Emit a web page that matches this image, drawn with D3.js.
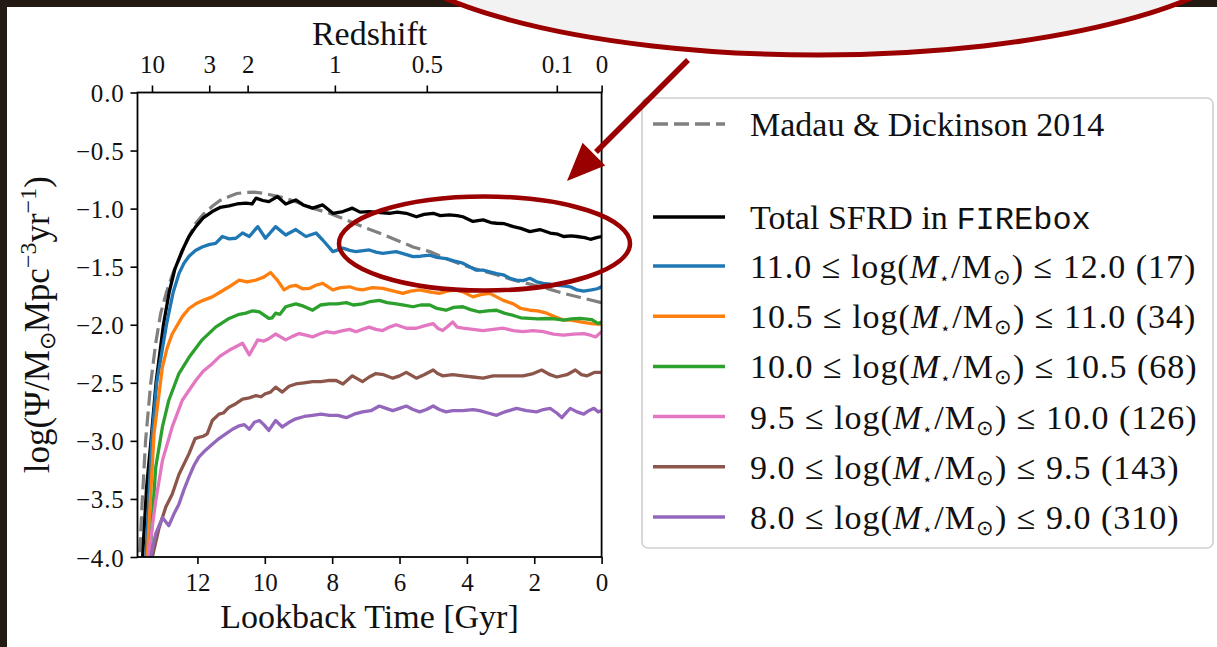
<!DOCTYPE html>
<html><head><meta charset="utf-8">
<script src="https://cdn.jsdelivr.net/npm/d3@7"></script>
<style>html,body{margin:0;padding:0;background:#221a14;overflow:hidden} svg{display:block}</style>
</head><body>
<svg id="c" width="1217" height="647"></svg>
<script>
// ---------------- DATA (lookback time [Gyr], log SFRD) ----------------
const madauDickinson = [[13.85,-4.5],[13.72,-4.0],[13.64,-3.52],[13.54,-3.0],[13.39,-2.51],[13.24,-2.16],[13.09,-1.9],[12.92,-1.72],[12.72,-1.55],[12.55,-1.44],[12.32,-1.28],[12.06,-1.13],[11.83,-1.05],[11.56,-0.98],[11.33,-0.93],[11.06,-0.896],[10.83,-0.87],[10.56,-0.86],[10.33,-0.858],[10.06,-0.867],[9.85,-0.88],[9.58,-0.896],[9.35,-0.915],[9.08,-0.94],[8.85,-0.965],[8.58,-0.996],[8.08,-1.04],[7.58,-1.097],[7.1,-1.155],[6.6,-1.21],[6.1,-1.27],[5.6,-1.33],[5.1,-1.37],[4.62,-1.43],[4.12,-1.486],[3.62,-1.53],[3.12,-1.57],[2.62,-1.615],[2.13,-1.65],[1.63,-1.687],[1.13,-1.73],[0.63,-1.765],[0,-1.81]];

const totalSFRD = [[13.75,-4.5],[13.63,-4.0],[13.51,-3.4],[13.38,-3.0],[13.23,-2.5],[13.01,-2.0],[12.84,-1.72],[12.67,-1.52],[12.45,-1.36],[12.25,-1.24],[12.05,-1.155],[11.83,-1.08],[11.56,-1.025],[11.33,-0.99],[11.06,-0.977],[10.83,-0.96],[10.56,-0.953],[10.38,-0.96],[10.26,-0.91],[10.06,-0.93],[9.88,-0.94],[9.63,-0.896],[9.38,-0.96],[9.08,-0.925],[8.85,-0.97],[8.58,-0.996],[8.28,-0.968],[7.98,-1.04],[7.68,-1.025],[7.4,-0.996],[7.17,-1.03],[6.9,-1.025],[6.57,-1.035],[6.3,-1.04],[6.07,-1.03],[5.8,-1.04],[5.5,-1.07],[5.27,-1.05],[5.0,-1.04],[4.79,-1.06],[4.52,-1.054],[4.29,-1.06],[4.12,-1.07],[3.82,-1.11],[3.52,-1.097],[3.29,-1.12],[3.12,-1.126],[2.89,-1.13],[2.62,-1.155],[2.4,-1.17],[2.13,-1.198],[1.83,-1.18],[1.53,-1.21],[1.3,-1.22],[1.13,-1.24],[0.9,-1.235],[0.73,-1.24],[0.5,-1.25],[0.33,-1.264],[0.15,-1.25],[0,-1.24]];

const bin11to12 = [[13.66,-4.6],[13.53,-4.0],[13.36,-3.0],[13.21,-2.5],[12.92,-2.0],[12.85,-1.90],[12.72,-1.72],[12.55,-1.56],[12.4,-1.47],[12.25,-1.41],[12.06,-1.36],[11.86,-1.33],[11.66,-1.31],[11.46,-1.30],[11.26,-1.24],[11.06,-1.26],[10.86,-1.255],[10.66,-1.21],[10.46,-1.24],[10.21,-1.155],[9.98,-1.255],[9.68,-1.155],[9.38,-1.227],[9.08,-1.18],[8.78,-1.24],[8.48,-1.21],[8.28,-1.27],[7.98,-1.37],[7.68,-1.34],[7.48,-1.36],[7.3,-1.37],[6.9,-1.356],[6.7,-1.375],[6.5,-1.385],[6.1,-1.37],[5.87,-1.39],[5.6,-1.414],[5.37,-1.41],[5.1,-1.40],[4.89,-1.42],[4.62,-1.43],[4.39,-1.45],[4.12,-1.47],[3.92,-1.50],[3.72,-1.53],[3.52,-1.53],[3.32,-1.544],[3.12,-1.56],[2.92,-1.57],[2.72,-1.60],[2.53,-1.615],[2.33,-1.62],[2.13,-1.60],[1.93,-1.63],[1.73,-1.644],[1.53,-1.65],[1.33,-1.66],[1.13,-1.665],[0.93,-1.673],[0.73,-1.70],[0.53,-1.71],[0.3,-1.70],[0.13,-1.69],[0,-1.673]];

const bin105to11 = [[13.63,-4.6],[13.49,-4.0],[13.29,-2.94],[13.04,-2.365],[12.9,-2.2],[12.75,-2.08],[12.45,-1.93],[12.25,-1.86],[12.05,-1.82],[11.83,-1.79],[11.56,-1.76],[11.33,-1.72],[11.06,-1.673],[10.76,-1.615],[10.53,-1.63],[10.26,-1.615],[10.03,-1.59],[9.83,-1.55],[9.63,-1.615],[9.43,-1.70],[9.25,-1.67],[9.08,-1.66],[8.88,-1.69],[8.68,-1.687],[8.48,-1.66],[8.28,-1.644],[7.98,-1.70],[7.75,-1.68],[7.48,-1.673],[7.3,-1.69],[7.1,-1.70],[6.8,-1.68],[6.5,-1.687],[6.17,-1.71],[5.9,-1.73],[5.67,-1.71],[5.4,-1.70],[5.07,-1.72],[4.82,-1.73],[4.59,-1.71],[4.32,-1.70],[4.09,-1.72],[3.82,-1.76],[3.59,-1.74],[3.32,-1.73],[3.12,-1.76],[2.92,-1.79],[2.62,-1.82],[2.4,-1.86],[2.13,-1.875],[1.9,-1.88],[1.63,-1.90],[1.4,-1.93],[1.13,-1.96],[0.9,-1.96],[0.63,-1.976],[0.3,-1.99],[0,-1.996]];

const bin10to105 = [[13.51,-4.6],[13.41,-4.0],[13.24,-3.23],[13.04,-2.88],[12.85,-2.65],[12.55,-2.42],[12.25,-2.28],[11.86,-2.13],[11.46,-2.02],[11.06,-1.946],[10.76,-1.91],[10.56,-1.90],[10.36,-1.88],[10.16,-1.89],[9.88,-1.946],[9.78,-1.94],[9.68,-1.90],[9.55,-1.91],[9.38,-1.845],[9.08,-1.82],[8.85,-1.84],[8.58,-1.875],[8.35,-1.83],[8.08,-1.82],[7.85,-1.82],[7.58,-1.81],[7.37,-1.83],[7.1,-1.82],[6.87,-1.80],[6.6,-1.79],[6.37,-1.81],[6.1,-1.82],[5.87,-1.83],[5.6,-1.845],[5.37,-1.83],[5.1,-1.83],[4.89,-1.86],[4.62,-1.875],[4.39,-1.85],[4.12,-1.845],[3.89,-1.87],[3.62,-1.89],[3.39,-1.88],[3.12,-1.875],[2.89,-1.90],[2.62,-1.92],[2.4,-1.94],[2.13,-1.946],[1.9,-1.95],[1.63,-1.946],[1.4,-1.95],[1.13,-1.96],[0.9,-1.95],[0.63,-1.946],[0.3,-1.955],[0.1,-1.99],[0,-1.976]];

const bin95to10 = [[13.56,-4.6],[13.46,-4.0],[13.24,-3.52],[13.04,-3.17],[12.75,-2.88],[12.45,-2.65],[12.05,-2.48],[11.83,-2.40],[11.56,-2.335],[11.33,-2.27],[11.06,-2.22],[10.86,-2.19],[10.66,-2.16],[10.46,-2.26],[10.21,-2.13],[10.03,-2.14],[9.88,-2.12],[9.68,-2.08],[9.38,-2.13],[9.18,-2.10],[8.98,-2.076],[8.78,-2.09],[8.58,-2.105],[8.38,-2.08],[8.18,-2.06],[7.95,-2.07],[7.68,-2.05],[7.48,-2.04],[7.3,-2.06],[7.1,-2.04],[6.9,-2.02],[6.7,-2.04],[6.5,-2.05],[6.3,-2.02],[6.1,-2.00],[5.8,-2.03],[5.5,-2.03],[5.27,-2.01],[5.0,-1.99],[4.87,-2.03],[4.72,-2.05],[4.59,-2.02],[4.42,-1.976],[4.29,-2.02],[4.12,-2.03],[3.82,-2.04],[3.52,-2.05],[3.22,-2.04],[2.92,-2.03],[2.62,-2.05],[2.33,-2.06],[2.03,-2.05],[1.73,-2.06],[1.43,-2.08],[1.13,-2.09],[0.83,-2.08],[0.53,-2.076],[0.33,-2.09],[0.18,-2.105],[0,-2.06]];

const bin9to95 = [[13.46,-4.6],[13.34,-4.0],[13.14,-3.75],[12.94,-3.57],[12.75,-3.46],[12.55,-3.29],[12.25,-3.11],[12.07,-2.98],[11.96,-2.97],[11.83,-2.96],[11.71,-2.94],[11.56,-2.825],[11.36,-2.77],[11.23,-2.76],[11.06,-2.71],[10.86,-2.68],[10.66,-2.64],[10.46,-2.63],[10.26,-2.61],[10.11,-2.62],[9.98,-2.594],[9.83,-2.58],[9.68,-2.537],[9.48,-2.58],[9.28,-2.53],[9.08,-2.51],[8.83,-2.50],[8.58,-2.49],[8.33,-2.49],[8.08,-2.48],[7.88,-2.48],[7.68,-2.51],[7.4,-2.44],[7.1,-2.49],[6.9,-2.45],[6.7,-2.42],[6.47,-2.43],[6.2,-2.46],[6.0,-2.44],[5.8,-2.41],[5.5,-2.46],[5.27,-2.43],[5.0,-2.39],[4.87,-2.42],[4.72,-2.44],[4.42,-2.43],[4.12,-2.44],[3.82,-2.45],[3.52,-2.46],[3.22,-2.44],[2.92,-2.44],[2.62,-2.44],[2.33,-2.44],[2.03,-2.42],[1.78,-2.39],[1.53,-2.43],[1.33,-2.45],[1.03,-2.43],[0.78,-2.39],[0.6,-2.43],[0.43,-2.44],[0.2,-2.41],[0,-2.41]];

const bin8to9 = [[13.51,-4.6],[13.39,-4.0],[13.24,-3.80],[13.04,-3.66],[12.85,-3.73],[12.7,-3.63],[12.55,-3.545],[12.4,-3.42],[12.25,-3.31],[12.1,-3.21],[11.96,-3.14],[11.76,-3.08],[11.56,-3.03],[11.36,-2.98],[11.16,-2.94],[10.96,-2.90],[10.76,-2.87],[10.61,-2.86],[10.46,-2.90],[10.31,-2.84],[10.16,-2.825],[10.03,-2.86],[9.88,-2.91],[9.68,-2.825],[9.48,-2.88],[9.28,-2.84],[9.08,-2.81],[8.83,-2.79],[8.58,-2.78],[8.33,-2.77],[8.08,-2.78],[7.83,-2.78],[7.58,-2.80],[7.35,-2.77],[7.1,-2.75],[6.85,-2.74],[6.6,-2.70],[6.4,-2.72],[6.2,-2.74],[6.0,-2.72],[5.8,-2.70],[5.6,-2.73],[5.4,-2.75],[5.2,-2.73],[5.0,-2.70],[4.82,-2.73],[4.62,-2.75],[4.42,-2.74],[4.12,-2.74],[3.82,-2.73],[3.62,-2.74],[3.37,-2.76],[3.12,-2.78],[2.87,-2.75],[2.53,-2.72],[2.23,-2.74],[1.93,-2.75],[1.73,-2.73],[1.53,-2.72],[1.33,-2.76],[1.18,-2.80],[1.03,-2.75],[0.93,-2.72],[0.73,-2.75],[0.53,-2.77],[0.38,-2.74],[0.23,-2.72],[0.1,-2.75],[0,-2.74]];

const binLow   = ["11.0","10.5","10.0","9.5","9.0","8.0"];
const binHigh  = ["12.0","11.0","10.5","10.0","9.5","9.0"];
const binCount = [17,34,68,126,143,310];
const binSeries = [bin11to12, bin105to11, bin10to105, bin95to10, bin9to95, bin8to9];
const binColors = ["#1f77b4","#ff7f0e","#2ca02c","#e377c2","#8c564b","#9467bd"];

const lookbackTicks = [12,10,8,6,4,2,0];
const yTicks = [0,-0.5,-1,-1.5,-2,-2.5,-3,-3.5,-4];
const redshiftLabels = ["10","3","2","1","0.5","0.1","0"];
const redshiftLookback = [13.35,11.65,10.51,7.92,5.19,1.33,0];

// ---------------- DRAWING ----------------
const W=1217,H=647;
const serif = "'Liberation Serif','Times New Roman',serif";
const svg=d3.select("#c");
svg.append("rect").attr("width",W).attr("height",H).attr("fill","#231a13");
svg.append("rect").attr("x",7).attr("y",7).attr("width",W-7).attr("height",H-7).attr("fill","#ffffff");

const P={left:137.5,right:601.6,top:92.5,bottom:557};
const x=d3.scaleLinear().domain([13.78,0]).range([P.left,P.right]);
const y=d3.scaleLinear().domain([-4,0]).range([P.bottom,P.top]);

svg.append("clipPath").attr("id","plotclip").append("rect")
  .attr("x",P.left).attr("y",P.top).attr("width",P.right-P.left).attr("height",P.bottom-P.top);

const line=d3.line().x(d=>x(d[0])).y(d=>y(d[1]));
const gl=svg.append("g").attr("clip-path","url(#plotclip)");
gl.append("path").attr("d",line(madauDickinson)).attr("fill","none")
  .attr("stroke","#808080").attr("stroke-width",3.2).attr("stroke-dasharray","15,6");
gl.append("path").attr("d",line(totalSFRD)).attr("fill","none")
  .attr("stroke","#000").attr("stroke-width",3.3).attr("stroke-linejoin","round");
binSeries.forEach((s,i)=>{
  gl.append("path").attr("d",line(s)).attr("fill","none")
    .attr("stroke",binColors[i]).attr("stroke-width",3.3).attr("stroke-linejoin","round");
});

// axes
function styleAxis(g){
  g.select(".domain").remove();
  g.selectAll(".tick line").attr("stroke","#000").attr("stroke-width",1.6);
  g.selectAll(".tick text").attr("font-family",serif).attr("font-size",25).attr("fill","#111");
}
const gb=svg.append("g").attr("transform",`translate(0,${P.bottom})`)
  .call(d3.axisBottom(x).tickValues(lookbackTicks).tickSize(7).tickFormat(d3.format("d")));
styleAxis(gb); gb.selectAll(".tick text").attr("dy",null).attr("y",34);

const gt=svg.append("g").attr("transform",`translate(0,${P.top})`)
  .call(d3.axisTop(x).tickValues(redshiftLookback).tickSize(7).tickFormat((d,i)=>redshiftLabels[i]));
styleAxis(gt); gt.selectAll(".tick text").attr("dy",null).attr("y",-20);

const gy=svg.append("g").attr("transform",`translate(${P.left},0)`)
  .call(d3.axisLeft(y).tickValues(yTicks).tickSize(7).tickFormat(d3.format(".1f")));
styleAxis(gy); gy.selectAll(".tick text").attr("dy",null).attr("y",9).attr("x",-13).attr("letter-spacing",0.8);

svg.append("rect").attr("x",P.left).attr("y",P.top).attr("width",P.right-P.left)
  .attr("height",P.bottom-P.top).attr("fill","none").attr("stroke","#000").attr("stroke-width",1.8);

// axis titles
svg.append("text").attr("x",(P.left+P.right)/2).attr("y",628).attr("text-anchor","middle")
  .attr("font-family",serif).attr("font-size",34).attr("fill","#111").text("Lookback Time [Gyr]");
svg.append("text").attr("x",(P.left+P.right)/2).attr("y",45).attr("text-anchor","middle")
  .attr("font-family",serif).attr("font-size",34).attr("fill","#111").text("Redshift");

const yl=svg.append("text").attr("transform",`translate(49,${(P.top+P.bottom)/2}) rotate(-90)`)
  .attr("text-anchor","middle").attr("font-family",serif).attr("font-size",35).attr("fill","#111");
yl.append("tspan").text("log(Ψ/M");
yl.append("tspan").attr("dy",6).attr("font-size",22).text("⊙");
yl.append("tspan").attr("dy",-6).text("Mpc");
yl.append("tspan").attr("dy",-13).attr("font-size",24).text("−3");
yl.append("tspan").attr("dy",13).text("yr");
yl.append("tspan").attr("dy",-13).attr("font-size",24).text("−1");
yl.append("tspan").attr("dy",13).text(")");

// legend
const lg=svg.append("g");
lg.append("rect").attr("x",642).attr("y",98).attr("width",571).attr("height",450).attr("rx",6)
  .attr("fill","#fff").attr("stroke","#cfcfcf").attr("stroke-width",1.6);
const hx0=653,hx1=725,tx=750,fs=34;
lg.append("line").attr("x1",hx0).attr("x2",hx1).attr("y1",124).attr("y2",124)
  .attr("stroke","#808080").attr("stroke-width",3.3).attr("stroke-dasharray","15,6");
lg.append("text").attr("x",tx).attr("y",136).attr("font-family",serif).attr("font-size",fs)
  .attr("fill","#111").text("Madau & Dickinson 2014");
lg.append("line").attr("x1",hx0).attr("x2",hx1).attr("y1",217).attr("y2",217)
  .attr("stroke","#000").attr("stroke-width",3.5);
const tt=lg.append("text").attr("x",tx).attr("y",229).attr("font-family",serif).attr("font-size",fs).attr("fill","#111");
tt.append("tspan").text("Total SFRD in ");
tt.append("tspan").attr("font-family","'Liberation Mono','DejaVu Sans Mono',monospace").attr("font-size",32).text("FIREbox");

binLow.forEach((lo,i)=>{
  const ly=266+i*50.2;
  lg.append("line").attr("x1",hx0).attr("x2",hx1).attr("y1",ly).attr("y2",ly)
    .attr("stroke",binColors[i]).attr("stroke-width",3.5);
  const t=lg.append("text").attr("x",tx).attr("y",ly+12).attr("font-family",serif)
    .attr("font-size",fs).attr("fill","#111").attr("letter-spacing",1);
  t.append("tspan").text(`${lo} ≤ log(`);
  t.append("tspan").attr("font-style","italic").text("M");
  t.append("tspan").attr("dy",6).attr("font-size",17).text("⋆");
  t.append("tspan").attr("dy",-6).text("/M");
  t.append("tspan").attr("dy",6).attr("font-size",21).text("⊙");
  t.append("tspan").attr("dy",-6).text(`) ≤ ${binHigh[i]} (${binCount[i]})`);
});

// annotations: ellipse, arrow, speech bubble
const red="#9a0000";
svg.append("ellipse").attr("cx",484.5).attr("cy",243.5).attr("rx",145.5).attr("ry",47)
  .attr("fill","none").attr("stroke",red).attr("stroke-width",4.5);
svg.append("line").attr("x1",688).attr("y1",60).attr("x2",596).attr("y2",152)
  .attr("stroke",red).attr("stroke-width",5.5);
svg.append("polygon").attr("points","567,181 605.2,165.4 582.6,142.8").attr("fill",red);
svg.append("ellipse").attr("cx",818).attr("cy",-74).attr("rx",450).attr("ry",129)
  .attr("fill","#f2f2f2").attr("stroke",red).attr("stroke-width",5);
</script>
</body></html>
